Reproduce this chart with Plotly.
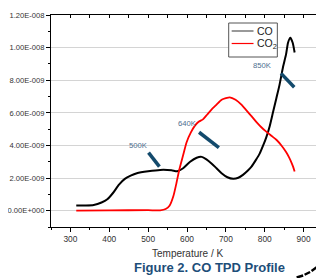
import plotly.graph_objects as go

# ---- data ----
co_T = [315, 340, 360, 380, 395, 410, 425, 440, 455, 471, 500, 531, 560, 575, 590,
        608, 625, 638, 650, 663, 676, 689, 704, 719, 732, 744, 756, 766, 777, 787,
        796, 804, 813, 821, 830, 838, 847, 855, 860, 866, 872, 877]
co_val = [0.32, 0.32, 0.35, 0.5, 0.7, 1.1, 1.6, 1.95, 2.15, 2.3, 2.42, 2.5, 2.48, 2.42, 2.6,
          3.0, 3.25, 3.3, 3.15, 2.9, 2.6, 2.3, 2.05, 1.96, 2.02, 2.2, 2.45, 2.7, 3.1, 3.5,
          4.0, 4.5, 5.2, 6.0, 6.9, 7.7, 8.8, 9.6, 10.3, 10.6, 10.3, 9.7]

co2_T = [315, 400, 500, 531, 545, 555, 565, 572, 580, 590, 599, 610, 620, 630, 641,
         652, 663, 676, 689, 700, 710, 725, 740, 753, 766, 780, 792, 804, 817, 830,
         843, 855, 862, 868, 873, 877]
co2_val = [0.0, 0.02, 0.03, 0.02, 0.1, 0.3, 0.9, 1.6, 2.5, 3.4, 4.2, 4.8, 5.2, 5.45, 5.6,
           5.9, 6.2, 6.5, 6.8, 6.9, 6.95, 6.8, 6.5, 6.15, 5.8, 5.4, 5.1, 4.85, 4.6, 4.35,
           4.0, 3.6, 3.3, 3.0, 2.7, 2.4]

scale = 1e-9
y_tickvals = [0, 2e-9, 4e-9, 6e-9, 8e-9, 1e-8, 1.2e-8]
y_ticktext = ["0.00E+000", "2.00E-009", "4.00E-009", "6.00E-009", "8.00E-009", "1.00E-008", "1.20E-008"]

series_names = ["CO", "CO<sub>2</sub>"]
series_colors = ["black", "red"]

peak_labels = ["500K", "640K", "850K"]
label_T = [475, 602, 795]
label_y = [3.98e-9, 5.32e-9, 8.93e-9]
seg_T0 = [501, 631, 842]
seg_T1 = [529, 682, 876]
seg_y0 = [3.56e-9, 4.81e-9, 8.42e-9]
seg_y1 = [2.70e-9, 3.86e-9, 7.57e-9]

FONT = "Liberation Sans, Arial, sans-serif"

# helpers: page pixel -> paper coords (page has an 8px body margin)
def px(x):
    return (x - 50) / 274

def py(y):
    return (227 - y) / 212

fig = go.Figure()
fig.add_trace(go.Scatter(x=co_T, y=[v * scale for v in co_val], mode="lines", name=series_names[0],
                         showlegend=False,
                         line=dict(color=series_colors[0], width=2, shape="spline", smoothing=0.6)))
fig.add_trace(go.Scatter(x=co2_T, y=[v * scale for v in co2_val], mode="lines", name=series_names[1],
                         showlegend=False,
                         line=dict(color=series_colors[1], width=1.8, shape="spline", smoothing=0.6)))

for i in range(len(peak_labels)):
    fig.add_shape(type="line", xref="x", yref="y", x0=seg_T0[i], x1=seg_T1[i],
                  y0=seg_y0[i], y1=seg_y1[i], line=dict(color="#134a6c", width=3.5))
    fig.add_annotation(x=label_T[i], y=label_y[i], text=peak_labels[i], showarrow=False,
                       font=dict(family=FONT, size=7.7, color="#4f6f90"))

# legend box (manual)
fig.add_shape(type="rect", xref="paper", yref="paper", x0=px(229), x1=px(278), y0=py(57), y1=py(23),
              line=dict(color="#555555", width=1), fillcolor="white", layer="above")
leg_rows = [31, 43.5]
for i in range(2):
    fig.add_shape(type="line", xref="paper", yref="paper", x0=px(232), x1=px(254),
                  y0=py(leg_rows[i]), y1=py(leg_rows[i]),
                  line=dict(color="#555555" if i == 0 else "red", width=1.2), layer="above")
    fig.add_annotation(xref="paper", yref="paper", x=px(256), y=py(leg_rows[i]), text=series_names[i],
                       showarrow=False, xanchor="left", yanchor="middle",
                       font=dict(family=FONT, size=10.5, color="#222222"))

fig.add_annotation(xref="paper", yref="paper", x=px(187), y=py(254),
                   text="Temperature / K", showarrow=False, yanchor="middle", xanchor="center",
                   font=dict(family=FONT, size=10, color="#333333"))
fig.add_annotation(xref="paper", yref="paper", x=px(210), y=py(267),
                   text="<b>Figure 2. CO TPD Profile</b>", showarrow=False, yanchor="middle",
                   xanchor="center", font=dict(family=FONT, size=13, color="#1d4e79"))

# decorative arc at bottom right, drawn as arrow-less annotation segments
arc_px = [296, 304, 311, 318, 325]
arc_py = [279, 275.5, 272, 267, 261]
for i in range(len(arc_px) - 1):
    fig.add_annotation(xref="paper", yref="paper", x=px(arc_px[i + 1]), y=py(arc_py[i + 1]),
                       ax=arc_px[i] - arc_px[i + 1], ay=arc_py[i] - arc_py[i + 1],
                       text="", showarrow=True, arrowhead=0, arrowwidth=2.5, arrowcolor="black",
                       standoff=0, startstandoff=0)

fig.update_layout(
    width=316, height=270,
    margin=dict(l=42, r=0, t=7, b=51),
    paper_bgcolor="white", plot_bgcolor="white",
    font=dict(family=FONT, color="#333333"),
    showlegend=False,
    xaxis=dict(range=[250, 950], tickmode="linear", tick0=300, dtick=100,
               ticks="outside", ticklen=4, tickcolor="black", tickwidth=1,
               showline=True, linecolor="black", linewidth=1, mirror=True,
               showgrid=False, zeroline=False,
               tickfont=dict(family=FONT, size=8.4, color="#333333"),
               minor=dict(tick0=250, dtick=50, ticks="outside", ticklen=2, tickcolor="black", showgrid=False)),
    xaxis2=dict(range=[250, 950], overlaying="x", side="top", matches="x",
                tickmode="linear", tick0=300, dtick=50, ticks="inside", ticklen=3,
                tickcolor="black", showticklabels=False, showgrid=False, zeroline=False,
                showline=False),
    yaxis=dict(range=[-1e-9, 1.2e-8], tickmode="array", tickvals=y_tickvals, ticktext=y_ticktext,
               ticks="outside", ticklen=4, tickcolor="black", tickwidth=1,
               showline=True, linecolor="black", linewidth=1, mirror=True,
               showgrid=True, gridcolor="#d4d4d4", gridwidth=1, zeroline=False,
               tickfont=dict(family=FONT, size=7.6, color="#333333"),
               minor=dict(tick0=0, dtick=1e-9, ticks="outside", ticklen=2, tickcolor="black", showgrid=False)),
)
# invisible trace to activate the top axis ticks
fig.add_trace(go.Scatter(x=[co_T[0]], y=[co_val[0] * scale], xaxis="x2", mode="markers",
                         marker=dict(opacity=0), showlegend=False, hoverinfo="skip"))

fig.write_html("out.html")
